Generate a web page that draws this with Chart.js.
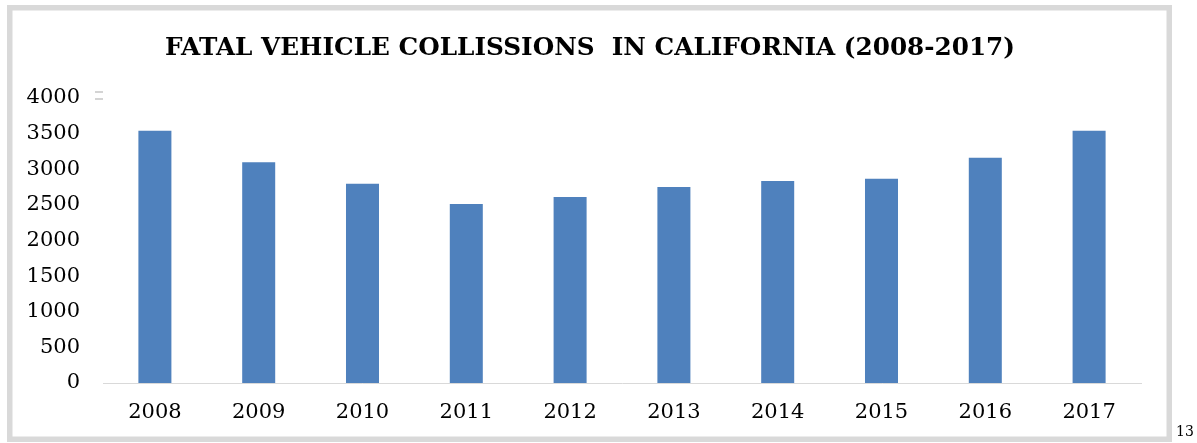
<!DOCTYPE html>
<html lang="en">
<head>
    <meta charset="UTF-8">
    <title>Fatal vehicle collisions</title>
    <script src="https://cdn.jsdelivr.net/npm/chart.js"></script>
    <style>
        html, body { margin: 0; padding: 0; background: #fff; }
        #wrap { width: 1197px; height: 443px; }
    </style>
</head>
<body>
    <div id="wrap"><canvas id="myChart"></canvas></div>

    <script>
        const years = ['2008', '2009', '2010', '2011', '2012', '2013', '2014', '2015', '2016', '2017'];
        const collisions = [3540, 3100, 2795, 2512, 2610, 2750, 2835, 2865, 3160, 3540];
        const yTicks = [0, 500, 1000, 1500, 2000, 2500, 3000, 3500, 4000];
        const titleText = 'FATAL VEHICLE COLLISSIONS  IN CALIFORNIA (2008-2017)';
        const pageNumber = '13';

        // frame, title (centred on the frame, not the plot), the little "=" mark and the page number
        const extras = {
            id: 'extras',
            beforeDraw(chart) {
                const ctx = chart.ctx;
                ctx.save();
                ctx.fillStyle = '#fff';
                ctx.fillRect(0, 0, chart.width, chart.height);
                ctx.restore();
            },
            afterDraw(chart) {
                const ctx = chart.ctx;
                ctx.save();
                ctx.strokeStyle = '#d9d9d9';
                ctx.lineWidth = 5.5;
                ctx.strokeRect(9.75, 7.75, 1159.5, 431.5);

                ctx.fillStyle = '#000';
                ctx.font = 'bold 25px "DejaVu Serif"';
                ctx.textAlign = 'center';
                ctx.textBaseline = 'middle';
                ctx.fillText(titleText, 590, 48, 850);

                ctx.fillStyle = '#d4d4d4';
                ctx.fillRect(95, 91, 8, 2);
                ctx.fillRect(95, 98, 8, 2);

                ctx.fillStyle = '#000';
                ctx.font = '14px "DejaVu Serif"';
                ctx.textAlign = 'left';
                ctx.textBaseline = 'alphabetic';
                ctx.fillText(pageNumber, 1176, 436);
                ctx.restore();
            }
        };

        var ctx = document.getElementById('myChart').getContext('2d');
        var myChart = new Chart(ctx, {
            type: 'bar',
            data: {
                labels: years,
                datasets: [{
                    label: 'Collisions',
                    data: collisions,
                    backgroundColor: '#4f81bd',
                    barPercentage: 0.318,
                    categoryPercentage: 1
                }]
            },
            options: {
                responsive: true,
                maintainAspectRatio: false,
                animation: false,
                layout: {
                    padding: { left: 0, right: 56, top: 98, bottom: 17 }
                },
                plugins: {
                    legend: { display: false },
                    tooltip: { enabled: false },
                    title: { display: false }
                },
                scales: {
                    x: {
                        afterFit(scale) { scale.height = 43; },
                        grid: { display: false, drawTicks: false },
                        border: { display: true, color: '#d9d9d9', width: 1 },
                        ticks: {
                            color: '#000',
                            padding: 17,
                            font: { family: 'DejaVu Serif', size: 21 }
                        }
                    },
                    y: {
                        min: 0,
                        max: 4000,
                        afterFit(scale) { scale.width = 103; },
                        afterBuildTicks(scale) {
                            scale.ticks = yTicks.map(v => ({ value: v }));
                        },
                        grid: { display: false, drawTicks: false },
                        border: { display: false },
                        ticks: {
                            color: '#000',
                            padding: 23,
                            font: { family: 'DejaVu Serif', size: 21 },
                            callback: v => String(v)
                        }
                    }
                }
            },
            plugins: [extras]
        });
    </script>
</body>
</html>
